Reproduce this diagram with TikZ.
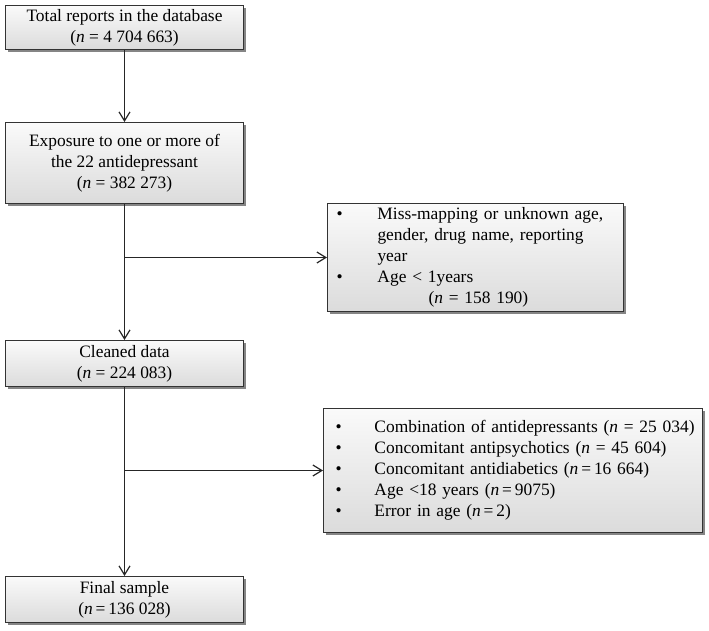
\documentclass[tikz,border=0pt]{standalone}
\usepackage{fontspec}
\setmainfont{Liberation Serif}
\usetikzlibrary{arrows.meta,shadows}
\tikzset{
  box/.style={draw=black!80, line width=1pt, top color=gray!4, bottom color=gray!28,
    drop shadow={shadow xshift=2pt, shadow yshift=-2pt, fill=black!60, opacity=0.8},
    anchor=north west, inner sep=0pt, font=\fontsize{17.4}{21}\selectfont},
  mainbox/.style={box, minimum width=238pt, align=center},
  listbox/.style={box, align=left},
  arr/.style={draw=black!85, line width=1.4pt, -{Straight Barb[length=9pt,width=11pt,line width=1.2pt]}},
  x=1pt, y=-1pt
}
\newcommand{\bl}[1]{\makebox[#1][l]{•}}
\begin{document}
\begin{tikzpicture}
\useasboundingbox (0,0) rectangle (709,630);
\node[mainbox, minimum height=44pt] (b1) at (5,5) {Total reports in the database\\(\textit{n} = 4 704 663)};
\node[mainbox, minimum height=81pt] (b2) at (5,122) {Exposure to one or more of\\the 22 antidepressant\\(\textit{n} = 382 273)};
\node[listbox, minimum width=296pt, minimum height=108pt, text width=278pt, inner xsep=9pt] (b3) at (327,203)
  {\bl{41pt}Miss-mapping or unknown age,\\\hspace*{41pt}gender, drug name, reporting\\\hspace*{41pt}year\\\bl{41pt}Age < 1years\\\hspace*{92pt}(\textit{n} = 158 190)};
\node[listbox, minimum width=379pt, minimum height=124pt, text width=355pt, inner xsep=12pt] (b5) at (323,408)
  {\mbox{\bl{39pt}Combination of antidepressants (\textit{n} = 25 034)}\\\mbox{\bl{39pt}Concomitant antipsychotics (\textit{n} = 45 604)}\\\mbox{\bl{39pt}Concomitant antidiabetics (\textit{n}\,=\,16 664)}\\\mbox{\bl{39pt}Age <18 years (\textit{n}\,=\,9075)}\\\mbox{\bl{39pt}Error in age (\textit{n}\,=\,2)}};
\node[mainbox, minimum height=46pt] (b4) at (5,340) {Cleaned data\\(\textit{n} = 224 083)};
\node[mainbox, minimum height=46pt] (b6) at (5,576) {Final sample\\(\textit{n}\,=\,136 028)};
\draw[arr] (b1.south) -- (b2.north);
\draw[arr] (b2.south) -- (b4.north);
\draw[arr] (b2.south |- b3.west) -- (b3.west);
\draw[arr] (b4.south) -- (b6.north);
\draw[arr] (b4.south |- b5.west) -- (b5.west);
\end{tikzpicture}
\end{document}
